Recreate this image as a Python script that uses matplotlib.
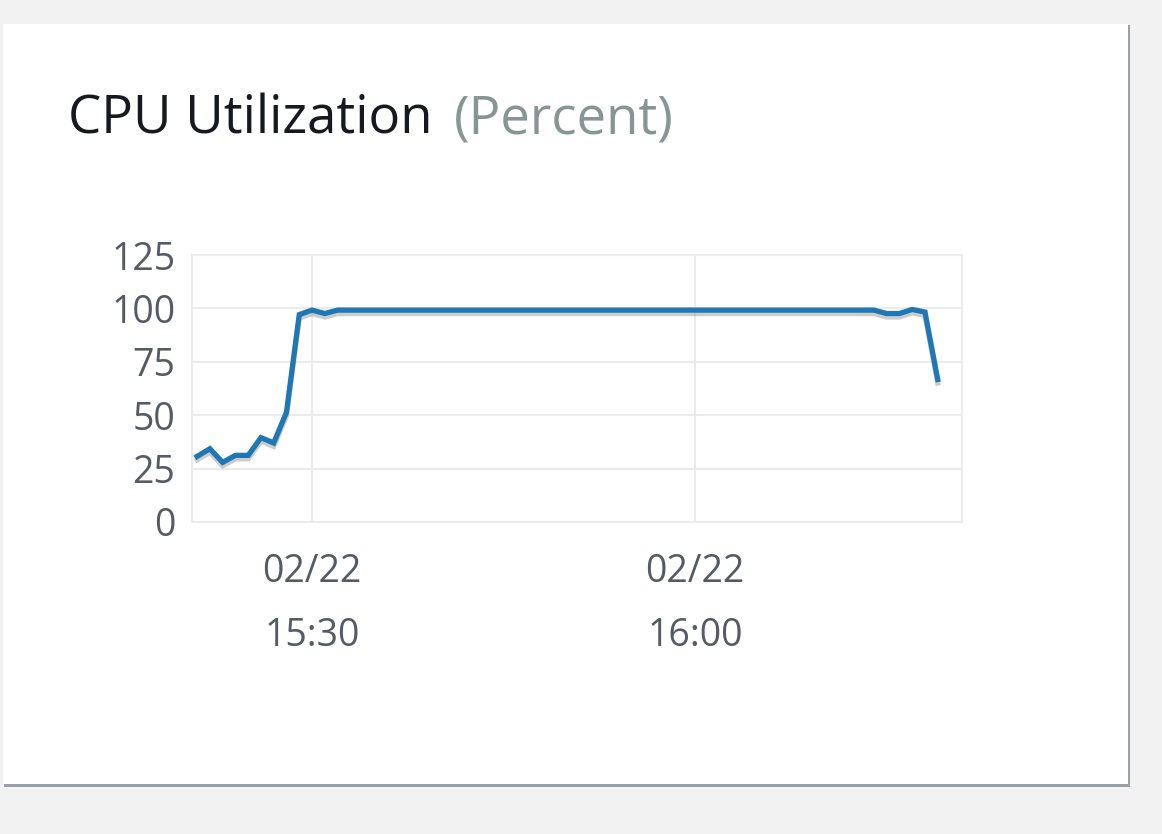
import numpy as np
import matplotlib; matplotlib.use("Agg")
import matplotlib.pyplot as plt
import matplotlib.dates as mdates
import matplotlib.patheffects as pe
from matplotlib.patches import Rectangle
from datetime import datetime, timedelta

# one point per minute, 15:21 .. 16:19 on 02/22
start = datetime(2024, 2, 22, 15, 21)
cpu = [30.7, 34.3, 27.9, 31.2, 31.2, 39.5, 37.0, 51.4, 97.1, 99.2,
       97.6, 99.2, 99.2, 99.2, 99.2, 99.2, 99.2, 99.2, 99.2, 99.2,
       99.2, 99.2, 99.2, 99.2, 99.2, 99.2, 99.2, 99.2, 99.2, 99.2,
       99.2, 99.2, 99.2, 99.2, 99.2, 99.2, 99.2, 99.2, 99.2, 99.2,
       99.2, 99.2, 99.2, 99.2, 99.2, 99.2, 99.2, 99.2, 99.2, 99.2,
       99.2, 99.2, 99.2, 99.2, 97.6, 97.6, 99.5, 98.3, 66.7]
times = [start + timedelta(minutes=i) for i in range(len(cpu))]
yticks = [0, 25, 50, 75, 100, 125]
xticks = [datetime(2024, 2, 22, 15, 30), datetime(2024, 2, 22, 16, 0)]

W, H = 1162, 834
fig = plt.figure(figsize=(W/100, H/100), dpi=100)
fig.patch.set_facecolor("#f2f2f2")
plt.rcParams["font.family"] = ["Open Sans", "DejaVu Sans"]

# card with shadow
fig.patches.append(Rectangle((4/W, 1-787/H), 1126/W, 762/H, transform=fig.transFigure,
                             facecolor="#9aa0a6", edgecolor="none", zorder=-3))
fig.patches.append(Rectangle((3/W, 1-784/H), 1125/W, 760/H, transform=fig.transFigure,
                             facecolor="white", edgecolor="none", zorder=-2))

t1 = fig.text(68/W, 1-133/H, "CPU Utilization", fontsize=38, color="#16191f", va="baseline")
fig.canvas.draw()
bb = t1.get_window_extent()
fig.text((bb.x1 + 21)/W, 1-133/H, "(Percent)", fontsize=38, color="#879596", va="baseline")

ax = fig.add_axes([192/W, 1-522/H, 770/W, 267/H])
ax.set_facecolor("white")
ax.plot(times, cpu, color="#1f77b4", lw=3.8, solid_joinstyle="miter",
        path_effects=[pe.SimpleLineShadow(offset=(0, -2.5), shadow_color="#808080", alpha=0.4),
                      pe.Normal()])
ax.set_ylim(0, 125)
ax.set_xlim(datetime(2024, 2, 22, 15, 20, 36), datetime(2024, 2, 22, 16, 20, 54))
ax.set_yticks(yticks)
ax.set_xticks(xticks)
ax.xaxis.set_major_formatter(mdates.DateFormatter("%m/%d\n%H:%M"))
ax.grid(True, color="#e9ebed", lw=1.5)
ax.set_axisbelow(True)
for s in ax.spines.values():
    s.set_color("#e9ebed"); s.set_linewidth(1.5)
ax.tick_params(length=0, labelsize=27, colors="#545b64")
ax.tick_params(axis="y", pad=12)
ax.tick_params(axis="x", pad=22)
for lab in ax.get_xticklabels():
    lab.set_linespacing(1.9)

fig.savefig("out.png", dpi=100, facecolor=fig.get_facecolor())
